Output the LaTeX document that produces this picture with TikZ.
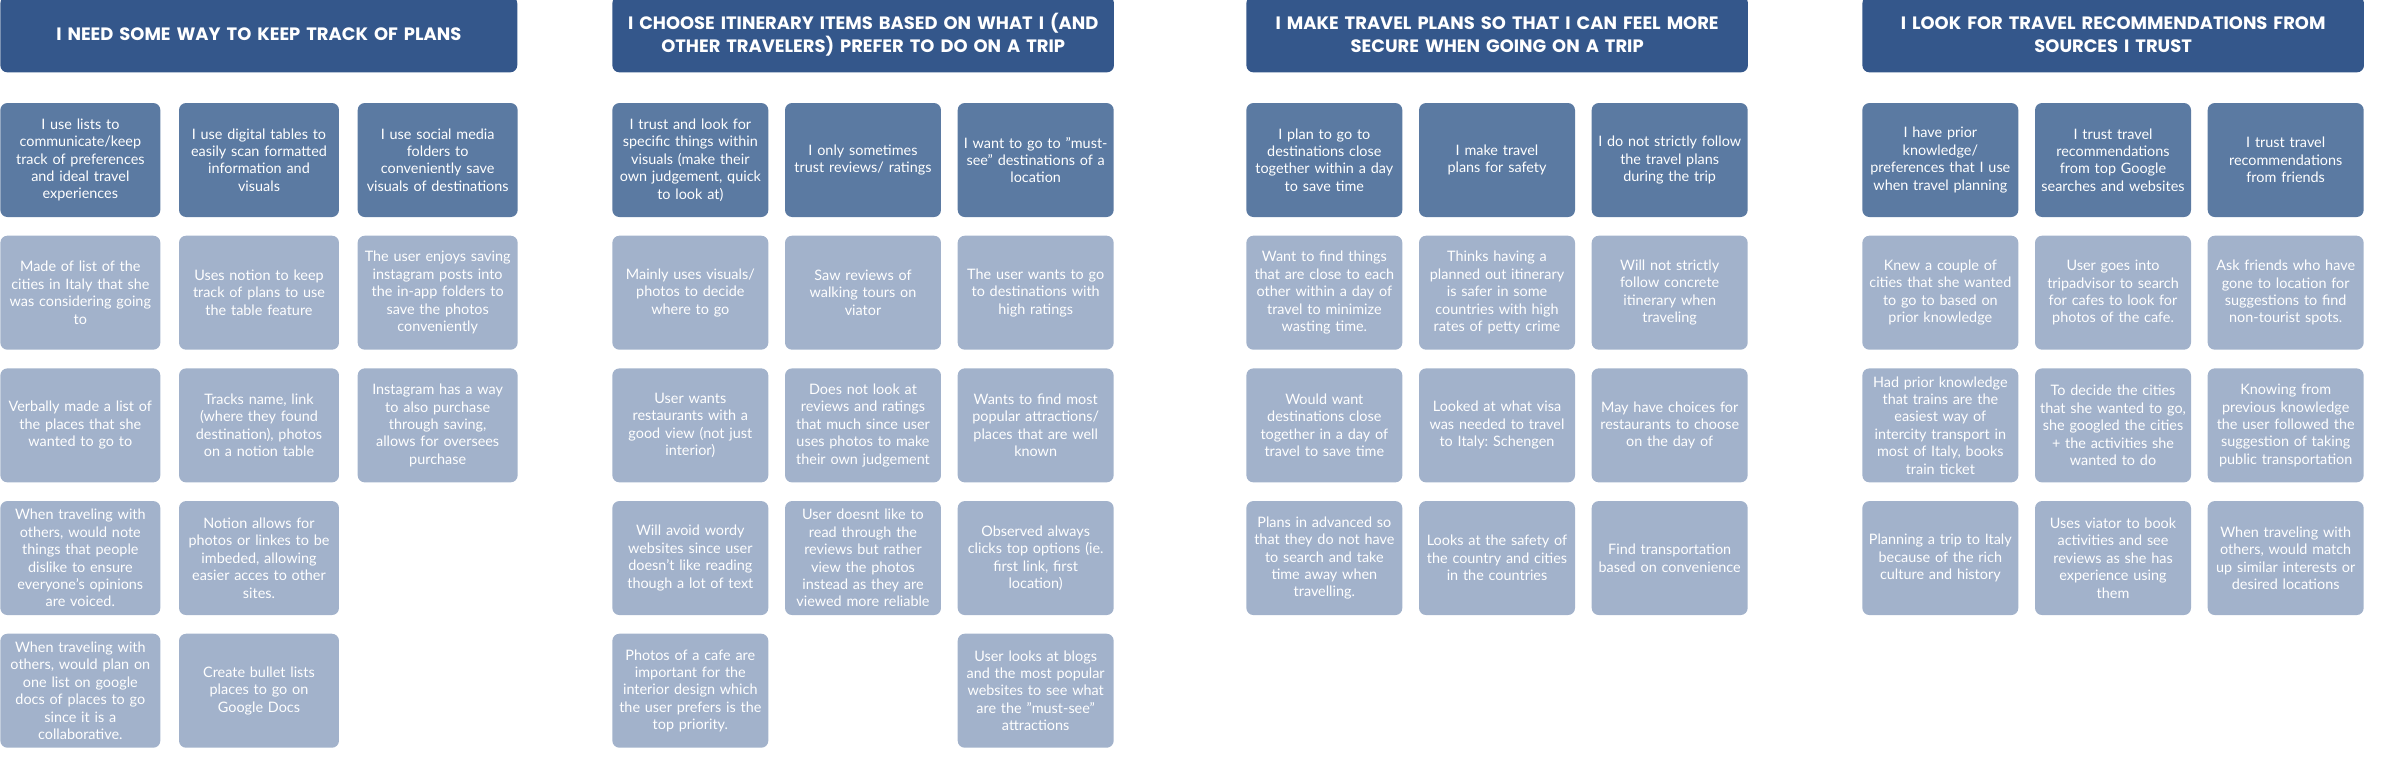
\documentclass[tikz,border=0pt]{standalone}
\usepackage{fontspec}
\setmainfont{Lato}
\newfontfamily\headfont{Poppins}
\usetikzlibrary{positioning}
\definecolor{headblue}{HTML}{34578B}
\definecolor{themeblue}{HTML}{5B7AA2}
\definecolor{noteblue}{HTML}{A2B2CB}
\frenchspacing
\tikzstyle{header} = [rectangle, rounded corners=4pt, fill=headblue, text=white, minimum width=10cm, minimum height=1.52cm, text width=9.8cm, align=center, anchor=north west, font=\headfont\bfseries\fontsize{10.2}{13.2}\selectfont]
\tikzstyle{card} = [rectangle, rounded corners=4pt, text=white, text width=3.04cm, inner xsep=0.04cm, inner ysep=0pt, minimum height=2.28cm, align=center, font=\fontsize{8.2}{9.9}\selectfont]
\tikzstyle{theme} = [card, fill=themeblue]
\tikzstyle{note} = [card, fill=noteblue]
\tikzstyle{wide} = [text width=3.12cm]

\begin{document}
\begin{tikzpicture}[x=0.02cm, y=-0.02cm, node distance=0.36cm]
    \useasboundingbox (0,0) rectangle (2400,767);

    % Group 1: keeping track of plans
    \node [header, minimum width=10.34cm, text width=10.1cm] (h1) at (0,-4) {I NEED SOME WAY TO KEEP TRACK OF PLANS};
    \node [theme, wide, below right=0.6cm and 0cm of h1.south west] (a11) {I use lists to\\communicate/keep\\track of preferences\\and ideal travel\\experiences};
    \node [theme, wide, right=of a11] (a12) {I use digital tables to\\easily scan formatted\\information and\\visuals};
    \node [theme, wide, right=of a12] (a13) {I use social media\\folders to\\conveniently save\\visuals of destinations};
    \node [note, wide, below=of a11] (a21) {Made of list of the\\cities in Italy that she\\was considering going\\to};
    \node [note, wide, below=of a12] (a22) {Uses notion to keep\\track of plans to use\\the table feature};
    \node [note, wide, below=of a13] (a23) {The user enjoys saving\\instagram posts into\\the in-app folders to\\save the photos\\conveniently};
    \node [note, wide, below=of a21] (a31) {Verbally made a list of\\the places that she\\wanted to go to};
    \node [note, wide, below=of a22] (a32) {Tracks name, link\\(where they found\\destination), photos\\on a notion table};
    \node [note, wide, below=of a23] (a33) {Instagram has a way\\to also purchase\\through saving,\\allows for oversees\\purchase};
    \node [note, wide, below=of a31] (a41) {When traveling with\\others, would note\\things that people\\dislike to ensure\\everyone's opinions\\are voiced.};
    \node [note, wide, below=of a32] (a42) {Notion allows for\\photos or linkes to be\\imbeded, allowing\\easier acces to other\\sites.};
    \node [note, wide, below=of a41] (a51) {When traveling with\\others, would plan on\\one list on google\\docs of places to go\\since it is a\\collaborative.};
    \node [note, wide, below=of a42] (a52) {Create bullet lists\\places to go on\\Google Docs};

    % Group 2: choosing itinerary items
    \node [header] (h2) at (612,-4) {I CHOOSE ITINERARY ITEMS BASED ON WHAT I (AND\\OTHER TRAVELERS) PREFER TO DO ON A TRIP};
    \node [theme, below right=0.6cm and 0cm of h2.south west] (b11) {I trust and look for\\specific things within\\visuals (make their\\own judgement, quick\\to look at)};
    \node [theme, right=0.32cm of b11] (b12) {I only sometimes\\trust reviews/ ratings};
    \node [theme, right=0.32cm of b12] (b13) {I want to go to "must-\\see" destinations of a\\location};
    \node [note, below=of b11] (b21) {Mainly uses visuals/\\photos to decide\\where to go};
    \node [note, below=of b12] (b22) {Saw reviews of\\walking tours on\\viator};
    \node [note, below=of b13] (b23) {The user wants to go\\to destinations with\\high ratings};
    \node [note, below=of b21] (b31) {User wants\\restaurants with a\\good view (not just\\interior)};
    \node [note, below=of b22] (b32) {Does not look at\\reviews and ratings\\that much since user\\uses photos to make\\their own judgement};
    \node [note, below=of b23] (b33) {Wants to find most\\popular attractions/\\places that are well\\known};
    \node [note, below=of b31] (b41) {Will avoid wordy\\websites since user\\doesn't like reading\\though a lot of text};
    \node [note, below=of b32] (b42) {User doesnt like to\\read through the\\reviews but rather\\view the photos\\instead as they are\\viewed more reliable};
    \node [note, below=of b33] (b43) {Observed always\\clicks top options (ie.\\first link, first\\location)};
    \node [note, below=of b41] (b51) {Photos of a cafe are\\important for the\\interior design which\\the user prefers is the\\top priority.};
    \node [note, below=of b43] (b53) {User looks at blogs\\and the most popular\\websites to see what\\are the "must-see"\\attractions};

    % Group 3: feeling secure
    \node [header] (h3) at (1246,-4) {I MAKE TRAVEL PLANS SO THAT I CAN FEEL MORE\\SECURE WHEN GOING ON A TRIP};
    \node [theme, below right=0.6cm and 0cm of h3.south west] (c11) {I plan to go to\\destinations close\\together within a day\\to save time};
    \node [theme, right=0.32cm of c11] (c12) {I make travel\\plans for safety};
    \node [theme, right=0.32cm of c12] (c13) {I do not strictly follow\\the travel plans\\during the trip};
    \node [note, below=of c11] (c21) {Want to find things\\that are close to each\\other within a day of\\travel to minimize\\wasting time.};
    \node [note, below=of c12] (c22) {Thinks having a\\planned out itinerary\\is safer in some\\countries with high\\rates of petty crime};
    \node [note, below=of c13] (c23) {Will not strictly\\follow concrete\\itinerary when\\traveling};
    \node [note, below=of c21] (c31) {Would want\\destinations close\\together in a day of\\travel to save time};
    \node [note, below=of c22] (c32) {Looked at what visa\\was needed to travel\\to Italy: Schengen};
    \node [note, below=of c23] (c33) {May have choices for\\restaurants to choose\\on the day of};
    \node [note, below=of c31] (c41) {Plans in advanced so\\that they do not have\\to search and take\\time away when\\travelling.};
    \node [note, below=of c32] (c42) {Looks at the safety of\\the country and cities\\in the countries};
    \node [note, below=of c33] (c43) {Find transportation\\based on convenience};

    % Group 4: trusted sources
    \node [header] (h4) at (1862,-4) {I LOOK FOR TRAVEL RECOMMENDATIONS FROM\\SOURCES I TRUST};
    \node [theme, below right=0.6cm and 0cm of h4.south west] (d11) {I have prior\\knowledge/\\preferences that I use\\when travel planning};
    \node [theme, right=0.32cm of d11] (d12) {I trust travel\\recommendations\\from top Google\\searches and websites};
    \node [theme, right=0.32cm of d12] (d13) {I trust travel\\recommendations\\from friends};
    \node [note, below=of d11] (d21) {Knew a couple of\\cities that she wanted\\to go to based on\\prior knowledge};
    \node [note, below=of d12] (d22) {User goes into\\tripadvisor to search\\for cafes to look for\\photos of the cafe.};
    \node [note, below=of d13] (d23) {Ask friends who have\\gone to location for\\suggestions to find\\non-tourist spots.};
    \node [note, below=of d21] (d31) {Had prior knowledge\\that trains are the\\easiest way of\\intercity transport in\\most of Italy, books\\train ticket};
    \node [note, below=of d22] (d32) {To decide the cities\\that she wanted to go,\\she googled the cities\\+ the activities she\\wanted to do};
    \node [note, below=of d23] (d33) {Knowing from\\previous knowledge\\the user followed the\\suggestion of taking\\public transportation};
    \node [note, below=of d31] (d41) {Planning a trip to Italy\\because of the rich\\culture and history};
    \node [note, below=of d32] (d42) {Uses viator to book\\activities and see\\reviews as she has\\experience using\\them};
    \node [note, below=of d33] (d43) {When traveling with\\others, would match\\up similar interests or\\desired locations};

\end{tikzpicture}
\end{document}
